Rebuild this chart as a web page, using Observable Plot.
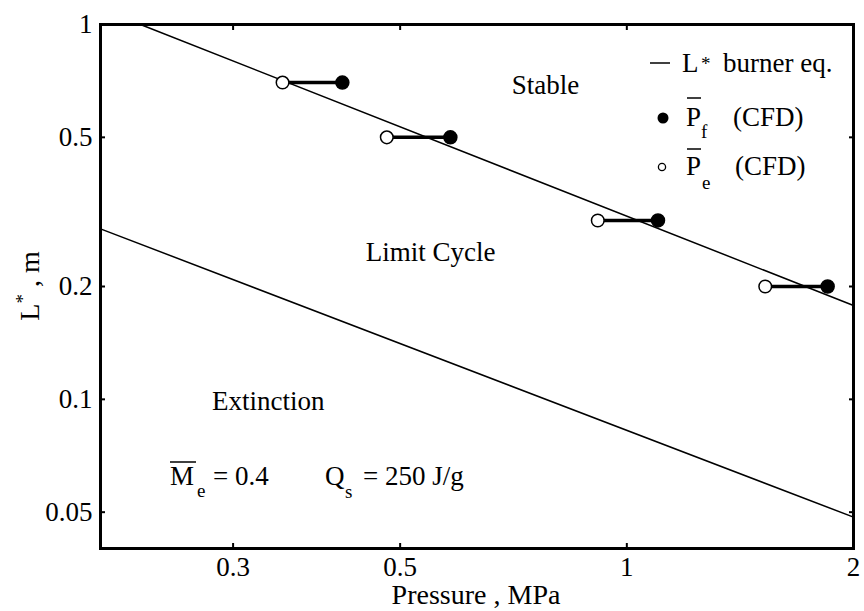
<!DOCTYPE html>
<html><head><meta charset="utf-8">
<script src="https://cdn.jsdelivr.net/npm/d3@7"></script>
<script src="https://cdn.jsdelivr.net/npm/@observablehq/plot@0.6"></script>
<style>
body{margin:0;background:#fff;}
#chart{position:relative;width:864px;height:611px;}
</style></head><body><div id="chart"></div>
<script>
// ---- data ----
const xTicks = [0.3, 0.5, 1, 2];
const yTicks = [0.05, 0.1, 0.2, 0.5, 1];
const burnerP = [0.226, 2];          // L* burner equation line
const burnerL = [1.0, 0.178];
const extinctionP = [0.2, 2];        // extinction boundary line
const extinctionL = [0.285, 0.0485];
const Lstar = [0.7, 0.5, 0.3, 0.2];
const Pe = [0.349, 0.480, 0.915, 1.527];   // open circles
const Pf = [0.419, 0.583, 1.100, 1.848];   // filled circles
const regionNames = ["Stable", "Limit Cycle", "Extinction"];
const regionP = [0.78, 0.549, 0.334];
const regionL = [0.69, 0.247, 0.099];

const burner = burnerP.map((p, i) => ({p, L: burnerL[i]}));
const extinction = extinctionP.map((p, i) => ({p, L: extinctionL[i]}));
const pairs = Lstar.map((L, i) => ({L, pe: Pe[i], pf: Pf[i]}));
const regions = regionNames.map((name, i) => ({name, p: regionP[i], L: regionL[i]}));

const FS = 27;
const FONT = "Liberation Serif";
const plot = Plot.plot({
  width: 864, height: 611,
  marginLeft: 100, marginRight: 11, marginTop: 24, marginBottom: 63,
  style: {fontFamily: FONT, fontSize: FS + "px", color: "black", background: "white", overflow: "visible"},
  x: {type: "log", domain: [0.2, 2]},
  y: {type: "log", domain: [0.04, 1]},
  marks: [
    Plot.axisX(xTicks, {anchor: "bottom", tickSize: 0, tickPadding: 8, tickFormat: d => String(d), label: null, fontSize: FS}),
    Plot.axisX(xTicks, {anchor: "bottom", tickSize: -5, tickFormat: () => "", label: null, strokeWidth: 2}),
    Plot.axisX(xTicks, {anchor: "top", tickSize: -5, tickFormat: () => "", label: null, strokeWidth: 2}),
    Plot.axisY(yTicks, {anchor: "left", tickSize: 0, tickPadding: 8, tickFormat: d => String(d), label: null, fontSize: FS}),
    Plot.axisY(yTicks, {anchor: "left", tickSize: -5, tickFormat: () => "", label: null, strokeWidth: 2}),
    Plot.axisY(yTicks, {anchor: "right", tickSize: -5, tickFormat: () => "", label: null, strokeWidth: 2}),
    Plot.line(burner, {x: "p", y: "L", stroke: "black", strokeWidth: 1.5}),
    Plot.line(extinction, {x: "p", y: "L", stroke: "black", strokeWidth: 1.5}),
    Plot.link(pairs, {x1: "pe", x2: "pf", y1: "L", y2: "L", stroke: "black", strokeWidth: 3.5}),
    Plot.dot(pairs, {x: "pf", y: "L", r: 6.5, fill: "black", stroke: "black"}),
    Plot.dot(pairs, {x: "pe", y: "L", r: 6.3, fill: "white", stroke: "black", strokeWidth: 1.5}),
    Plot.text(regions, {x: "p", y: "L", text: "name", fontSize: FS, fill: "black"}),
    Plot.frame({stroke: "black", strokeWidth: 3})
  ]
});
document.getElementById("chart").appendChild(plot);

const svg = d3.select(plot);
const g = svg.append("g").attr("fill", "black").attr("font-family", FONT);
function txt(x, y, s, size, anchor) {
  return g.append("text").attr("x", x).attr("y", y).attr("font-size", size)
    .attr("text-anchor", anchor || "start").text(s);
}
function bar(x1, x2, y) {
  g.append("line").attr("x1", x1).attr("x2", x2).attr("y1", y).attr("y2", y)
    .attr("stroke", "black").attr("stroke-width", 1.5);
}

// axis titles
txt(476, 604, "Pressure , MPa", 28, "middle");
const yl = g.append("text").attr("transform", "translate(39,286) rotate(-90)")
  .attr("text-anchor", "middle").attr("font-size", 28);
yl.append("tspan").text("L");
yl.append("tspan").attr("font-size", 19).attr("dy", -10).text("*");
yl.append("tspan").attr("dy", 10).text(" , m");

// legend
g.append("line").attr("x1", 650).attr("x2", 670).attr("y1", 63).attr("y2", 63)
  .attr("stroke", "black").attr("stroke-width", 1.5);
txt(682, 72, "L", FS);
txt(701, 70, "*", 19);
txt(723, 72, "burner eq.", FS);

g.append("circle").attr("cx", 663).attr("cy", 118).attr("r", 5.5).attr("fill", "black");
txt(686, 126, "P", FS); bar(687, 701, 98);
txt(701, 138, "f", 19);
txt(733, 126, "(CFD)", FS);

g.append("circle").attr("cx", 662).attr("cy", 167).attr("r", 3.6).attr("fill", "white")
  .attr("stroke", "black").attr("stroke-width", 1.3);
txt(686, 175, "P", FS); bar(687, 701, 149);
txt(702, 189, "e", 19);
txt(735, 175, "(CFD)", FS);

// parameters annotation
txt(170, 485, "M", FS); bar(170, 196, 462);
txt(197, 497, "e", 19);
txt(213, 485, "= 0.4", FS);
txt(325, 485, "Q", FS);
txt(345, 498, "s", 19);
txt(363, 485, "= 250 J/g", FS);
</script>
</body></html>
